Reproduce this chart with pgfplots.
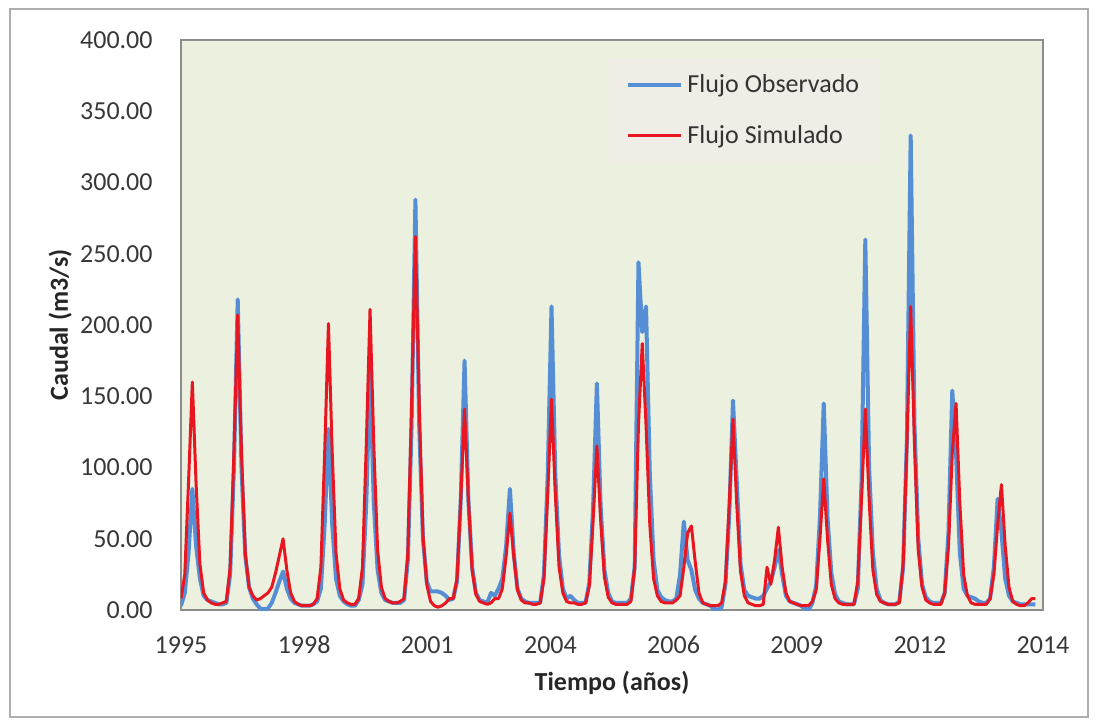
\documentclass[border=0pt]{standalone}
\usepackage{fontspec}
\setmainfont{Carlito}
\usepackage{pgfplots}
\usepackage{pgfplotstable}
\pgfplotsset{compat=1.18}
\definecolor{plotbg}{RGB}{235,241,222}
\definecolor{legbg}{RGB}{239,237,229}
\definecolor{obsblue}{RGB}{85,142,213}
\definecolor{simred}{RGB}{232,22,32}
\definecolor{axgray}{RGB}{140,140,140}
\pgfplotstableread{
m o s
0 3 8
1 12 25
2 40 90
3 85 160
4 45 88
5 22 32
6 10 12
7 7 7
8 6 5
9 5 4
10 4 4
11 4 5
12 5 6
13 25 30
14 100 110
15 218 207
16 100 110
17 38 40
18 16 16
19 8 10
20 4 7
21 1 8
22 0.5 10
23 1 12
24 5 16
25 12 26
26 20 38
27 27 50
28 15 28
29 8 12
30 5 6
31 4 4
32 3 3
33 3 3
34 3 3
35 4 4
36 6 8
37 15 30
38 60 110
39 127 201
40 60 110
41 22 40
42 10 15
43 6 7
44 4 5
45 3 4
46 3 4
47 7 8
48 18 30
49 75 115
50 167 211
51 75 115
52 28 42
53 12 16
54 7 8
55 6 6
56 5 5
57 5 5
58 5 6
59 7 8
60 35 40
61 130 145
62 288 262
63 130 145
64 50 52
65 20 18
66 13 6
67 13 3
68 13 2
69 12 3
70 10 5
71 7 8
72 8 8
73 20 22
74 78 78
75 175 141
76 78 78
77 30 28
78 12 11
79 7 6
80 6 5
81 5 4
82 12 5
83 10 8
84 15 8
85 22 15
86 45 38
87 85 68
88 40 38
89 15 14
90 8 7
91 6 5
92 5 5
93 5 4
94 5 4
95 5 5
96 25 22
97 95 82
98 213 148
99 95 82
100 38 30
101 15 12
102 8 6
103 10 5
104 7 5
105 5 4
106 5 4
107 5 5
108 19 17
109 72 63
110 159 115
111 72 63
112 28 23
113 12 9
114 6 5
115 5 4
116 5 4
117 5 4
118 5 4
119 8 6
120 30 30
121 244 130
122 195 187
123 213 130
124 95 60
125 35 22
126 14 10
127 9 6
128 7 5
129 6 5
130 6 5
131 8 7
132 25 10
133 62 30
134 35 54
135 28 59
136 14 34
137 8 12
138 5 5
139 4 4
140 3 3
141 1 3
142 0 3
143 2 5
144 18 20
145 66 74
146 147 134
147 90 74
148 32 27
149 14 10
150 10 5
151 9 4
152 8 3
153 8 3
154 10 4
155 15 30
156 20 18
157 30 35
158 42 58
159 25 30
160 10 12
161 6 6
162 5 5
163 4 4
164 3 3
165 1 3
166 0 3
167 5 6
168 17 14
169 65 50
170 145 92
171 65 50
172 26 18
173 11 8
174 6 5
175 5 4
176 4 4
177 4 4
178 4 4
179 15 20
180 90 78
181 260 141
182 100 78
183 40 28
184 15 11
185 7 6
186 5 5
187 4 4
188 4 4
189 4 4
190 6 5
191 30 32
192 120 117
193 333 213
194 130 117
195 50 42
196 18 16
197 9 7
198 6 5
199 5 4
200 5 4
201 5 4
202 12 12
203 55 45
204 154 110
205 110 145
206 40 75
207 15 25
208 10 10
209 9 5
210 8 4
211 6 4
212 5 4
213 5 4
214 8 8
215 30 25
216 78 60
217 55 88
218 22 45
219 10 16
220 6 6
221 5 4
222 4 3
223 4 3
224 4 5
225 4 8
226 4 8
}\flowdata
\begin{document}
\begin{tikzpicture}
\path[use as bounding box, fill=white] (-90.5pt,-57pt) rectangle (457pt,305pt);
\begin{axis}[
  at={(0,0)}, anchor=south west,
  scale only axis, width=431pt, height=285pt,
  xmin=0, xmax=228, ymin=0, ymax=400,
  axis background/.style={fill=plotbg},
  axis line style={draw=axgray, line width=0.9pt},
  tick style={draw=none},
  xtick={0,32.5714,65.1429,97.7143,130.2857,162.8571,195.4286,228},
  xticklabels={1995,1998,2001,2004,2006,2009,2012,2014},
  ytick={0,50,100,150,200,250,300,350,400},
  /pgf/number format/assume math mode=true,
  y tick label style={/pgf/number format/fixed, /pgf/number format/fixed zerofill, /pgf/number format/precision=2},
  every tick label/.append style={font=\fontsize{13pt}{15.6pt}\selectfont, text=black!78, inner sep=0pt},
  xticklabel style={anchor=base, yshift=-21.5pt},
  yticklabel style={anchor=east, xshift=-14pt},
  xlabel={Tiempo (años)},
  ylabel={Caudal (m3/s)},
  xlabel style={at={(axis description cs:0.5,0)}, anchor=base, yshift=-40pt, font=\fontsize{13pt}{15.6pt}\selectfont\bfseries, text=black!85, inner sep=0pt},
  ylabel style={at={(axis description cs:-0.1311,0.5)}, anchor=base, font=\fontsize{13pt}{15.6pt}\selectfont\bfseries, text=black!85, inner sep=0pt},
  legend style={at={(axis description cs:0.4977,0.9684)}, anchor=north west, fill=legbg, draw=none,
    font=\fontsize{13pt}{15.6pt}\selectfont, text=black!80, row sep=11pt, inner xsep=8pt, inner ysep=6pt,
    cells={anchor=west}},
  legend image code/.code={\draw[#1] (0pt,0pt) -- (26.5pt,0pt);},
  clip=true,
]
\addplot[obsblue, line width=2pt, line join=round] table[x=m, y=o] {\flowdata};
\addlegendentry{Flujo Observado}
\addplot[simred, line width=1.5pt, line join=round] table[x=m, y=s] {\flowdata};
\addlegendentry{Flujo Simulado}
\end{axis}
\draw[axgray!70, line width=0.6pt] (-85.5pt,-53.5pt) rectangle (453.5pt,300.5pt);
\end{tikzpicture}
\end{document}
